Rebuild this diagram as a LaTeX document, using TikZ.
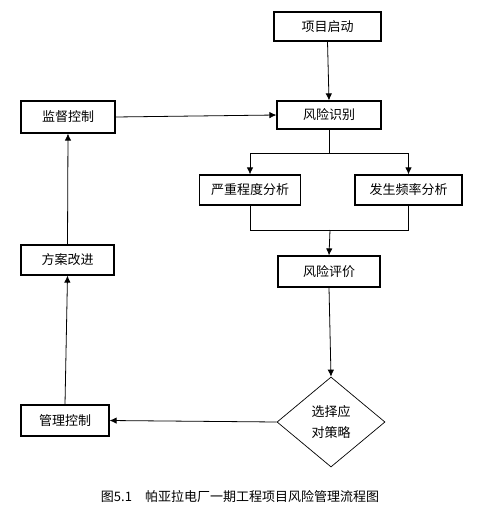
\documentclass[tikz,border=0pt]{standalone}
\usepackage{fontspec}
\setmainfont{Noto Sans CJK SC}
\usetikzlibrary{shapes.geometric, arrows.meta}

\begin{document}
\begin{tikzpicture}[
    x=1pt, y=-1pt,
    box/.style={rectangle, draw, line width=1.2pt, minimum height=30pt,
        inner sep=2pt, align=center, font=\fontsize{13}{15}\selectfont},
    choice/.style={diamond, draw, line width=0.7pt, minimum width=108pt,
        minimum height=90pt, inner sep=0pt, align=center,
        font=\fontsize{13}{21}\selectfont},
    line/.style={line width=0.8pt},
    arrow/.style={line width=0.8pt, -{Latex[length=7pt, width=6.5pt]}}
]
    \useasboundingbox (0,0) rectangle (477,513);

    \node[box, minimum width=107pt, minimum height=29pt] (start) at (327.5, 26.5) {项目启动};
    \node[box, minimum width=104pt, minimum height=28pt] (ident) at (329, 115) {风险识别};
    \node[box, minimum width=94pt, minimum height=32pt] (monitor) at (68, 117) {监督控制};
    \node[box, minimum width=101pt] (severity) at (250, 190) {严重程度分析};
    \node[box, minimum width=107pt] (frequency) at (408.5, 190) {发生频率分析};
    \node[box, minimum width=102pt, minimum height=31pt] (assess) at (329, 271.5) {风险评价};
    \node[choice] (strategy) at (331, 422) {选择应\\对策略};
    \node[box, minimum width=88pt, minimum height=31pt] (manage) at (65, 420.5) {管理控制};
    \node[box, minimum width=93pt] (improve) at (67.5, 260) {方案改进};

    \node[font=\fontsize{13}{15}\selectfont] (caption) at (240, 497) {图5.1\quad 帕亚拉电厂一期工程项目风险管理流程图};

    \coordinate (split) at (329, 153);
    \coordinate (merge) at (330, 230);

    \draw[arrow] (start.south) -- (ident.north);
    \draw[arrow] (monitor.east) -- (ident.west);
    \draw[line] (ident.south) -- (split);
    \draw[arrow] (split) -| (severity.north);
    \draw[arrow] (split) -| (frequency.north);
    \draw[line] (severity.south) |- (merge);
    \draw[line] (frequency.south) |- (merge);
    \draw[arrow] (merge) -- (assess.north);
    \draw[arrow] (assess.south) -- (strategy.north);
    \draw[arrow] (strategy.west) -- (manage.east);
    \draw[arrow] (manage.north) -- (improve.south);
    \draw[arrow] (improve.north) -- (monitor.south);

\end{tikzpicture}
\end{document}
